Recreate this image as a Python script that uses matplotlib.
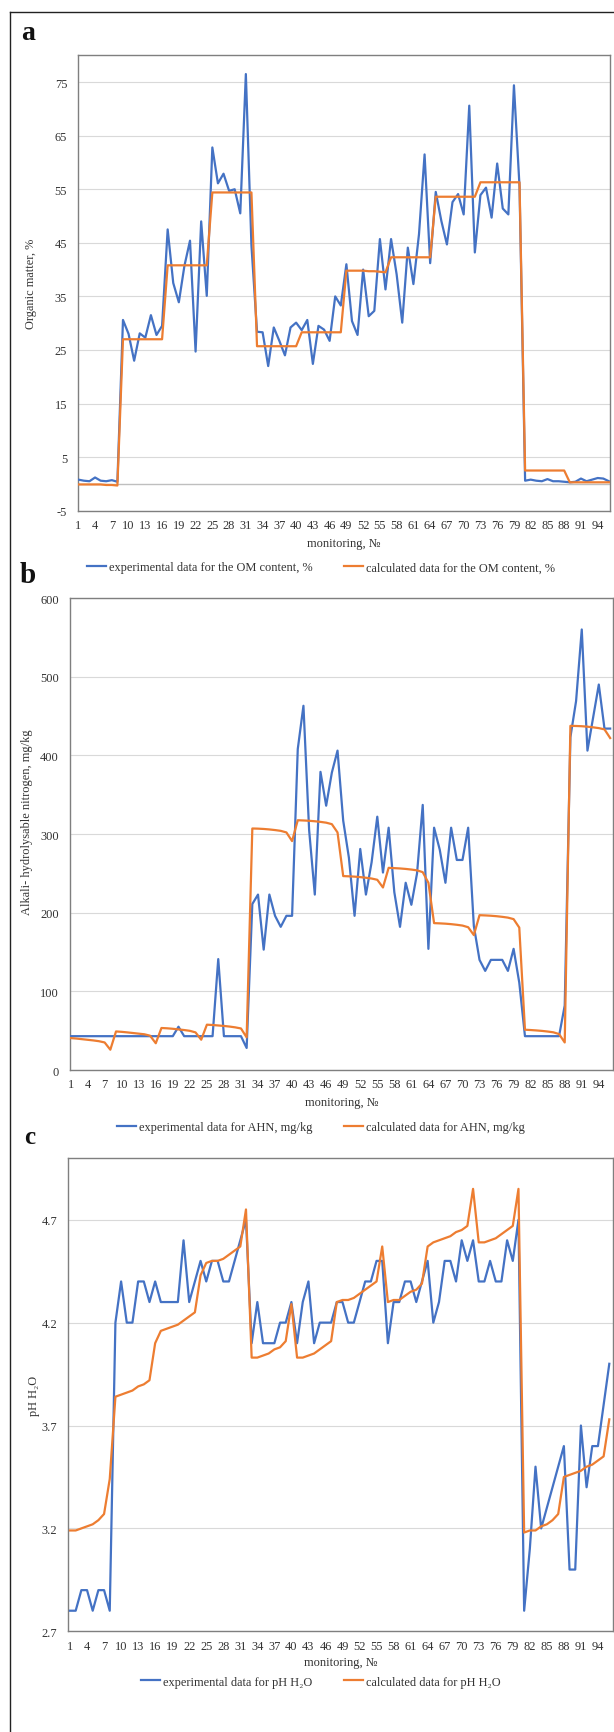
import matplotlib
matplotlib.use("Agg")
import matplotlib.pyplot as plt
from matplotlib.lines import Line2D

W, H = 614, 1733
plt.rcParams['font.family'] = ['Liberation Serif', 'DejaVu Serif']
plt.rcParams['font.size'] = 8.9

BLUE = '#4472c4'
ORANGE = '#ed7d31'
FS = 8.9

monitoring = list(range(1, 97))

# a: organic matter, %
om_exp = [0.8, 0.6, 0.5, 1.2, 0.6, 0.5, 0.7, 0.4,
          30.6, 28.0, 23.0, 28.1, 27.3, 31.5, 27.8, 29.5,
          47.5, 37.5, 33.9, 40.7, 45.4, 24.7, 49.0, 35.1,
          62.8, 56.1, 57.9, 54.7, 55.0, 50.5, 76.5, 44.5,
          28.4, 28.3, 22.0, 29.2, 26.7, 24.0, 29.2, 30.1,
          28.7, 30.6, 22.4, 29.5, 28.8, 26.7, 35.0, 33.3,
          41.0, 30.4, 27.8, 40.0, 31.3, 32.3, 45.7, 36.3,
          45.7, 39.1, 30.1, 44.1, 37.3, 46.6, 61.5, 41.2,
          54.5, 49.1, 44.7, 52.6, 54.1, 50.3, 70.6, 43.2,
          53.9, 55.3, 49.7, 59.8, 51.4, 50.3, 74.4, 55.5,
          0.6, 0.8, 0.6, 0.5, 0.9, 0.5, 0.5, 0.4,
          0.3, 0.4, 1.0, 0.5, 0.8, 1.1, 1.0, 0.5]
om_calc = [-0.1, -0.1, -0.1, -0.1, -0.1, -0.2, -0.2, -0.3,
           27.0, 27.0, 27.0, 27.0, 27.0, 27.0, 27.0, 27.0,
           40.8, 40.8, 40.8, 40.8, 40.8, 40.8, 40.8, 40.8,
           54.4, 54.4, 54.4, 54.4, 54.4, 54.4, 54.4, 54.4,
           25.7, 25.7, 25.7, 25.7, 25.7, 25.7, 25.7, 25.7,
           28.3, 28.3, 28.3, 28.3, 28.3, 28.3, 28.3, 28.3,
           39.8, 39.8, 39.8, 39.8, 39.7, 39.7, 39.6, 39.5,
           42.3, 42.3, 42.3, 42.3, 42.3, 42.3, 42.3, 42.3,
           53.6, 53.6, 53.6, 53.6, 53.6, 53.6, 53.6, 53.6,
           56.3, 56.3, 56.3, 56.3, 56.3, 56.3, 56.3, 56.3,
           2.5, 2.5, 2.5, 2.5, 2.5, 2.5, 2.5, 2.5,
           0.3, 0.3, 0.3, 0.3, 0.3, 0.3, 0.3, 0.3]

# b: alkali-hydrolysable nitrogen, mg/kg
ahn_exp = [43, 43, 43, 43, 43, 43, 43, 43,
           43, 43, 43, 43, 43, 43, 43, 43,
           43, 43, 43, 55, 43, 43, 43, 43,
           43, 43, 141, 43, 43, 43, 43, 28,
           211, 223, 153, 223, 196, 182, 196, 196,
           408, 463, 305, 223, 379, 336, 378, 406,
           317, 270, 196, 281, 223, 264, 322, 251,
           308, 226, 182, 238, 210, 250, 337, 154,
           308, 280, 238, 308, 267, 267, 308, 183,
           140, 126, 140, 140, 140, 126, 154, 111,
           43, 43, 43, 43, 43, 43, 43, 82,
           423, 469, 560, 406, 448, 490, 434, 434]
ahn_calc = [40.6, 40.0, 39.2, 38.4, 37.6, 36.6, 35.0, 25.8,
            49.0, 48.5, 47.8, 47.0, 46.2, 45.4, 43.6, 34.0,
            53.4, 53.0, 52.4, 51.6, 50.8, 49.8, 47.8, 38.5,
            57.6, 57.2, 56.6, 56.0, 55.2, 54.2, 52.8, 41.5,
            307.0, 306.8, 306.4, 305.8, 305.0, 304.0, 302.0, 291.0,
            317.5, 317.2, 316.8, 316.2, 315.4, 314.4, 312.5, 302.0,
            246.5, 246.2, 245.8, 245.2, 244.4, 243.4, 241.8, 232.0,
            257.0, 256.6, 256.2, 255.6, 254.8, 253.8, 251.5, 238.0,
            186.7, 186.4, 186.0, 185.4, 184.6, 183.6, 181.5, 171.5,
            196.8, 196.5, 196.1, 195.5, 194.7, 193.7, 191.8, 181.0,
            51.2, 50.8, 50.3, 49.7, 48.9, 47.9, 45.7, 35.0,
            437.5, 437.3, 437.0, 436.4, 435.6, 434.6, 433.0, 422.0]

# c: pH H2O
ph_exp = [2.8, 2.8, 2.9, 2.9, 2.8, 2.9, 2.9, 2.8,
          4.2, 4.4, 4.2, 4.2, 4.4, 4.4, 4.3, 4.4,
          4.3, 4.3, 4.3, 4.3, 4.6, 4.3, 4.4, 4.5,
          4.4, 4.5, 4.5, 4.4, 4.4, 4.5, 4.6, 4.7,
          4.1, 4.3, 4.1, 4.1, 4.1, 4.2, 4.2, 4.3,
          4.1, 4.3, 4.4, 4.1, 4.2, 4.2, 4.2, 4.3,
          4.3, 4.2, 4.2, 4.3, 4.4, 4.4, 4.5, 4.5,
          4.1, 4.3, 4.3, 4.4, 4.4, 4.3, 4.4, 4.5,
          4.2, 4.3, 4.5, 4.5, 4.4, 4.6, 4.5, 4.6,
          4.4, 4.4, 4.5, 4.4, 4.4, 4.6, 4.5, 4.7,
          2.8, 3.1, 3.5, 3.2, 3.3, 3.4, 3.5, 3.6,
          3.0, 3.0, 3.7, 3.4, 3.6, 3.6, 3.8, 4.0]
ph_calc = [3.19, 3.19, 3.20, 3.21, 3.22, 3.24, 3.27, 3.44,
           3.84, 3.85, 3.86, 3.87, 3.89, 3.90, 3.92, 4.10,
           4.16, 4.17, 4.18, 4.19, 4.21, 4.23, 4.25, 4.43,
           4.49, 4.50, 4.50, 4.51, 4.53, 4.55, 4.57, 4.75,
           4.03, 4.03, 4.04, 4.05, 4.07, 4.08, 4.11, 4.29,
           4.03, 4.03, 4.04, 4.05, 4.07, 4.09, 4.11, 4.30,
           4.31, 4.31, 4.32, 4.34, 4.36, 4.38, 4.40, 4.57,
           4.30, 4.31, 4.31, 4.33, 4.35, 4.36, 4.39, 4.57,
           4.59, 4.60, 4.61, 4.62, 4.64, 4.65, 4.67, 4.85,
           4.59, 4.59, 4.60, 4.61, 4.63, 4.65, 4.67, 4.85,
           3.18, 3.19, 3.19, 3.21, 3.22, 3.24, 3.27, 3.45,
           3.46, 3.47, 3.48, 3.50, 3.51, 3.53, 3.55, 3.73]

om_ticks = [-5, 5, 15, 25, 35, 45, 55, 65, 75]
ahn_ticks = [0, 100, 200, 300, 400, 500, 600]
ph_ticks = [2.7, 3.2, 3.7, 4.2, 4.7]
x_ticks = list(range(1, 97, 3))


def fx(x):
    return x / W


def fy(y):
    return 1 - y / H


fig = plt.figure(figsize=(W / 100, H / 100), dpi=100)

# outer frame (left + top)
fig.add_artist(Line2D([fx(9.5), fx(9.5)], [fy(12.5), 0], color='#222222', lw=1.0))
fig.add_artist(Line2D([fx(9.5), 1], [fy(12.5), fy(12.5)], color='#222222', lw=1.0))

panels = [
    dict(box=(78.3, 56.3, 610, 511.7), xlim=(1, 96.2), ylim=(-5, 80), yticks=om_ticks,
         exp=om_exp, calc=om_calc, ylabel='Organic matter, %', ylab_x=31, ylab_y=284,
         xlab_y=544.3, leg_y=568.3, letter='a', let_xy=(28, 39.5), let_size=20,
         labels=['experimental data for the OM content, %', 'calculated data for the OM content, %']),
    dict(box=(70, 599, 613, 1071), xlim=(0.9, 96.5), ylim=(0, 600), yticks=ahn_ticks,
         exp=ahn_exp, calc=ahn_calc, ylabel='Alkali- hydrolysable nitrogen, mg/kg', ylab_x=27, ylab_y=822,
         xlab_y=1103, leg_y=1128, letter='b', let_xy=(28, 583.3), let_size=21,
         labels=['experimental data for AHN, mg/kg', 'calculated data for AHN, mg/kg']),
    dict(box=(68.3, 1159, 612.7, 1632.3), xlim=(0.7, 96.6), ylim=(2.7, 5.0), yticks=ph_ticks,
         exp=ph_exp, calc=ph_calc, ylabel='pH H\u2082O', ylab_x=34.5, ylab_y=1396,
         xlab_y=1663, leg_y=1682.7, letter='c', let_xy=(29.5, 1144), let_size=18,
         labels=['experimental data for pH H\u2082O', 'calculated data for pH H\u2082O']),
]

for p in panels:
    l, t, r, b = p['box']
    ax = fig.add_axes([fx(l), fy(b), (r - l) / W, (b - t) / H])
    ax.plot(monitoring, p['exp'], color=BLUE, lw=1.6, label=p['labels'][0], zorder=3)
    ax.plot(monitoring, p['calc'], color=ORANGE, lw=1.6, label=p['labels'][1], zorder=4)
    if p['ylim'][0] < 0:
        ax.axhline(0, color='#bfbfbf', lw=1.0, zorder=2)
    ax.set_xlim(*p['xlim'])
    ax.set_ylim(*p['ylim'])
    ax.set_yticks(p['yticks'])
    ax.set_yticklabels([str(v) for v in p['yticks']])
    ax.set_xticks(x_ticks)
    ax.grid(axis='y', color='#d9d9d9', lw=0.8, zorder=0)
    ax.set_axisbelow(True)
    for s in ax.spines.values():
        s.set_color('#7f7f7f')
        s.set_linewidth(1.0)
    ax.tick_params(length=0, labelsize=FS, colors='#333333')
    ax.tick_params(axis='y', pad=8)
    ax.tick_params(axis='x', pad=6)

    fig.text(fx((l + r) / 2), fy(p['xlab_y']), 'monitoring, \u2116', ha='center', va='center',
             fontsize=FS, color='#333333')
    fig.text(fx(p['ylab_x']), fy(p['ylab_y']), p['ylabel'], rotation=90, ha='center', va='center',
             fontsize=FS, color='#333333')
    fig.text(fx(p['let_xy'][0]), fy(p['let_xy'][1]), p['letter'], ha='center', va='baseline',
             fontsize=p['let_size'], fontweight='bold', color='#111111')
    h, lab = ax.get_legend_handles_labels()
    fig.legend(h, lab, loc='center', bbox_to_anchor=(fx(321), fy(p['leg_y'])), ncol=2,
               frameon=False, fontsize=FS, handlelength=1.5, handletextpad=0.25,
               columnspacing=2.6, labelcolor='#333333')

fig.savefig('out.png', dpi=100)
